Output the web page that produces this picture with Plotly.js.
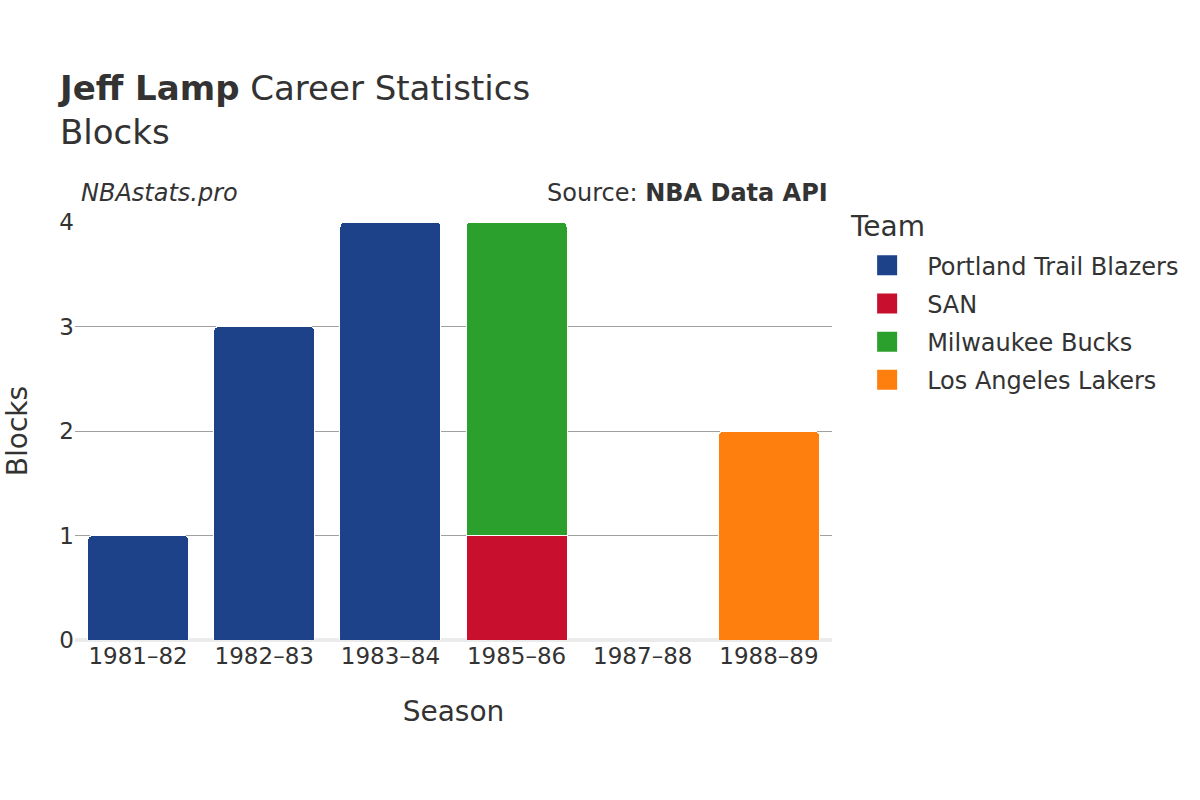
<!DOCTYPE html>
<html><head><meta charset="utf-8">
<script src="https://cdn.plot.ly/plotly-3.0.1.min.js"></script>
<style>html,body{margin:0;padding:0;background:#fff}</style>
</head><body>
<div id="chart" style="width:1200px;height:800px"></div>
<script>
const seasons = ["1981–82","1982–83","1983–84","1985–86","1987–88","1988–89"];
const teams = ["Portland Trail Blazers","SAN","Milwaukee Bucks","Los Angeles Lakers"];
const colors = ["#1d428a","#c8102e","#2ca02c","#ff7f0e"];
const portland = [1,3,4,null,0,null];
const san = [null,null,null,1,null,null];
const milwaukee = [null,null,null,3,null,null];
const lakers = [null,null,null,null,null,2];
const series = [portland, san, milwaukee, lakers];
const yTicks = [0,1,2,3,4];

const traces = series.map((vals,i)=>({
  type:"bar", name:teams[i], x:seasons, y:vals, showlegend:false, legendgroup:teams[i],
  marker:{color:colors[i], line:{color:"#ffffff", width:1}},
  hovertemplate:"%{y}<extra>"+teams[i]+"</extra>"
}));
// legend entries with larger square swatches
teams.forEach((t,i)=>traces.push({
  type:"scatter", mode:"markers", name:t, legendgroup:t, x:[null], y:[null],
  marker:{symbol:"square", size:16, color:colors[i], line:{color:colors[i], width:4}},
  hoverinfo:"skip"
}));

const font = "DejaVu Sans, sans-serif";
const layout = {
  width:1200, height:800,
  barmode:"stack", bargap:0.2, barcornerradius:5,
  paper_bgcolor:"#fff", plot_bgcolor:"#fff",
  font:{family:font, color:"#333", size:23},
  margin:{l:75, r:368, t:222, b:160},
  title:{text:"<b>Jeff Lamp</b> Career Statistics<br>Blocks", x:0.05, xanchor:"left", y:0.875, yanchor:"top", font:{family:font, size:34, color:"#333"}},
  xaxis:{title:{text:"Season", font:{size:28}, standoff:33}, tickfont:{size:23}, showgrid:false, ticks:"", type:"category"},
  yaxis:{title:{text:"Blocks", font:{size:28}, standoff:23}, range:[0,4], tickvals:yTicks, tickfont:{size:23},
         showgrid:true, gridcolor:"#a0a0a0", gridwidth:1, zeroline:true, zerolinecolor:"#ebebeb", zerolinewidth:4, ticks:""},
  legend:{font:{size:24}, traceorder:"grouped", x:1.02, xanchor:"left", y:0.9494, yanchor:"top", tracegroupgap:4, itemwidth:70},
  annotations:[
    {text:"Team", xref:"paper", yref:"paper", x:1.021, y:0.990, xanchor:"left", yanchor:"middle", showarrow:false, font:{size:28, color:"#333"}},
    {text:"<i>NBAstats.pro</i>", xref:"paper", yref:"paper", x:0.005, y:1.03, xanchor:"left", yanchor:"bottom", showarrow:false, font:{size:24, color:"#333"}},
    {text:"Source: <b>NBA Data API</b>", xref:"paper", yref:"paper", x:0.998, y:1.03, xanchor:"right", yanchor:"bottom", showarrow:false, font:{size:24, color:"#333"}}
  ]
};
Plotly.newPlot("chart", traces, layout, {displayModeBar:false});
</script>
</body></html>
